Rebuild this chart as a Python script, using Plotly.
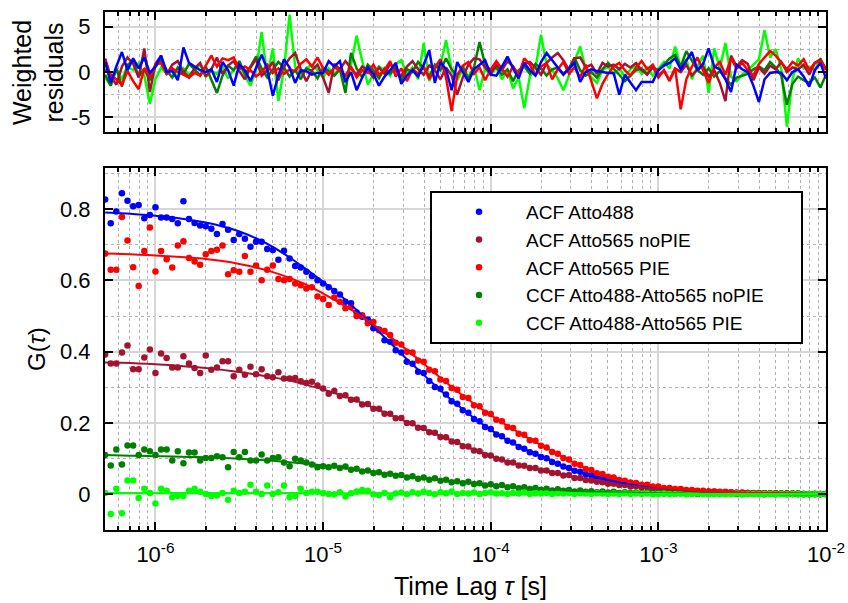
import numpy as np
import plotly.graph_objects as go

# ---------------- data ----------------
tau_us = [0.501, 0.541, 0.584, 0.631, 0.681, 0.736, 0.794, 0.858, 0.926,
          1.0, 1.08, 1.166, 1.259, 1.359, 1.468, 1.585, 1.711, 1.848, 1.995, 2.154, 2.326, 2.512, 2.712, 2.929,
          3.162, 3.415, 3.687, 3.981, 4.299, 4.642, 5.012, 5.412, 5.843, 6.31, 6.813, 7.356, 7.943, 8.577, 9.261,
          10.0, 10.8, 11.66, 12.59, 13.59, 14.68, 15.85, 17.11, 18.48, 19.95, 21.54, 23.26, 25.12, 27.12, 29.29,
          31.62, 34.15, 36.87, 39.81, 42.99, 46.42, 50.12, 54.12, 58.43, 63.1, 68.13, 73.56, 79.43, 85.77, 92.61,
          100, 108, 116.6, 125.9, 135.9, 146.8, 158.5, 171.1, 184.8, 199.5, 215.4, 232.6, 251.2, 271.2, 292.9,
          316.2, 341.5, 368.7, 398.1, 429.9, 464.2, 501.2, 541.2, 584.3, 631, 681.3, 735.6, 794.3, 857.7, 926.1,
          1000, 1080, 1166, 1259, 1359, 1468, 1585, 1711, 1848, 1995, 2154, 2326, 2512, 2712, 2929,
          3162, 3415, 3687, 3981, 4299, 4642, 5012, 5412, 5843, 6310, 6813, 7356, 7943, 8577, 9261,
          10000]

labels = ["ACF Atto488", "ACF Atto565 noPIE", "ACF Atto565 PIE",
          "CCF Atto488-Atto565 noPIE", "CCF Atto488-Atto565 PIE"]

g_acf488 = [0.827, 0.760, 0.793, 0.844, 0.823, 0.808, 0.811, 0.774, 0.783, 0.805,
            0.776, 0.776, 0.772, 0.760, 0.822, 0.772, 0.761, 0.754, 0.752, 0.745,
            0.730, 0.758, 0.742, 0.713, 0.730, 0.717, 0.694, 0.708, 0.708, 0.688,
            0.685, 0.658, 0.683, 0.661, 0.640, 0.636, 0.624, 0.612, 0.600, 0.591,
            0.581, 0.570, 0.560, 0.540, 0.536, 0.510, 0.498, 0.490, 0.466, 0.462,
            0.432, 0.428, 0.404, 0.398, 0.372, 0.366, 0.344, 0.340, 0.318, 0.301,
            0.296, 0.280, 0.261, 0.254, 0.236, 0.229, 0.211, 0.205, 0.189, 0.183,
            0.168, 0.163, 0.150, 0.145, 0.133, 0.128, 0.118, 0.114, 0.105, 0.101,
            0.091, 0.086, 0.078, 0.074, 0.066, 0.063, 0.056, 0.053, 0.047, 0.045,
            0.039, 0.038, 0.033, 0.032, 0.028, 0.027, 0.023, 0.022, 0.019, 0.018,
            0.015, 0.015, 0.012, 0.012, 0.010, 0.010, 0.009, 0.008, 0.007, 0.007,
            0.006, 0.005, 0.005, 0.004, 0.004, 0.004, 0.003, 0.003, 0.003, 0.002,
            0.002, 0.002, 0.002, 0.002, 0.001, 0.001, 0.001, 0.001, 0.001, 0.001]

g_acf565_nopie = [0.392, 0.367, 0.367, 0.398, 0.417, 0.351, 0.351, 0.384, 0.406, 0.340,
                  0.395, 0.382, 0.356, 0.356, 0.387, 0.367, 0.354, 0.340, 0.389, 0.349,
                  0.356, 0.373, 0.373, 0.331, 0.349, 0.335, 0.358, 0.337, 0.351, 0.331,
                  0.328, 0.342, 0.325, 0.325, 0.326, 0.317, 0.312, 0.316, 0.305, 0.297,
                  0.282, 0.290, 0.276, 0.278, 0.265, 0.266, 0.252, 0.253, 0.240, 0.240,
                  0.226, 0.226, 0.213, 0.214, 0.200, 0.199, 0.187, 0.186, 0.174, 0.173,
                  0.161, 0.160, 0.148, 0.147, 0.135, 0.134, 0.123, 0.121, 0.110, 0.109,
                  0.100, 0.098, 0.089, 0.089, 0.081, 0.080, 0.074, 0.074, 0.067, 0.067,
                  0.060, 0.060, 0.053, 0.054, 0.046, 0.046, 0.040, 0.039, 0.035, 0.034,
                  0.030, 0.030, 0.026, 0.026, 0.022, 0.023, 0.019, 0.020, 0.016, 0.017,
                  0.014, 0.014, 0.011, 0.012, 0.009, 0.010, 0.008, 0.008, 0.007, 0.007,
                  0.006, 0.005, 0.005, 0.004, 0.004, 0.004, 0.003, 0.003, 0.003, 0.002,
                  0.002, 0.002, 0.002, 0.001, 0.002, 0.001, 0.001, 0.001, 0.001, 0.001]

g_acf565_pie = [0.675, 0.630, 0.630, 0.778, 0.712, 0.637, 0.584, 0.682, 0.748, 0.625,
                0.682, 0.659, 0.636, 0.698, 0.710, 0.663, 0.653, 0.644, 0.673, 0.682,
                0.686, 0.698, 0.617, 0.628, 0.624, 0.668, 0.624, 0.642, 0.600, 0.630,
                0.642, 0.604, 0.600, 0.604, 0.591, 0.586, 0.577, 0.581, 0.555, 0.548,
                0.531, 0.552, 0.540, 0.522, 0.525, 0.500, 0.502, 0.480, 0.483, 0.460,
                0.458, 0.447, 0.425, 0.420, 0.400, 0.398, 0.375, 0.372, 0.349, 0.345,
                0.322, 0.318, 0.298, 0.293, 0.273, 0.270, 0.250, 0.247, 0.229, 0.225,
                0.209, 0.205, 0.189, 0.186, 0.170, 0.167, 0.152, 0.150, 0.136, 0.131,
                0.119, 0.114, 0.102, 0.098, 0.086, 0.082, 0.071, 0.068, 0.059, 0.057,
                0.049, 0.047, 0.040, 0.038, 0.033, 0.032, 0.027, 0.027, 0.022, 0.022,
                0.018, 0.018, 0.015, 0.015, 0.012, 0.012, 0.010, 0.010, 0.008, 0.008,
                0.007, 0.007, 0.006, 0.005, 0.005, 0.004, 0.004, 0.004, 0.003, 0.003,
                0.003, 0.002, 0.002, 0.002, 0.002, 0.001, 0.001, 0.001, 0.001, 0.001]

g_ccf_nopie = [0.110, 0.081, 0.126, 0.084, 0.137, 0.137, 0.110, 0.126, 0.121, 0.110,
               0.126, 0.126, 0.095, 0.121, 0.087, 0.117, 0.117, 0.095, 0.102, 0.102,
               0.107, 0.104, 0.076, 0.119, 0.104, 0.119, 0.095, 0.095, 0.112, 0.095,
               0.102, 0.104, 0.089, 0.079, 0.100, 0.095, 0.089, 0.084, 0.076, 0.079,
               0.076, 0.080, 0.074, 0.078, 0.069, 0.072, 0.064, 0.067, 0.060, 0.062,
               0.055, 0.058, 0.052, 0.054, 0.047, 0.051, 0.044, 0.047, 0.041, 0.045,
               0.038, 0.041, 0.034, 0.037, 0.031, 0.035, 0.029, 0.031, 0.025, 0.028,
               0.023, 0.026, 0.020, 0.023, 0.017, 0.020, 0.015, 0.018, 0.013, 0.016,
               0.011, 0.014, 0.010, 0.012, 0.008, 0.011, 0.007, 0.009, 0.006, 0.008,
               0.005, 0.007, 0.004, 0.006, 0.004, 0.005, 0.003, 0.005, 0.002, 0.004,
               0.002, 0.004, 0.002, 0.003, 0.001, 0.003, 0.001, 0.002, 0.001, 0.002,
               0.001, 0.002, 0.001, 0.001, 0.000, 0.001, 0.001, 0.001, 0.000, 0.001,
               0.000, 0.001, 0.000, 0.001, 0.000, 0.000, 0.000, 0.001, 0.000, 0.000]

g_ccf_pie = [0.004, -0.055, 0.016, -0.053, 0.039, 0.039, -0.010, 0.016, 0.004, -0.026,
             0.016, 0.010, -0.008, -0.005, -0.005, 0.010, 0.016, 0.007, 0.001, -0.005,
             -0.003, 0.004, -0.015, 0.010, 0.004, 0.007, 0.027, 0.007, 0.001, 0.025,
             0.001, 0.006, 0.025, -0.008, -0.005, 0.016, 0.004, 0.007, 0.007, 0.004,
             0.001, 0.000, 0.006, -0.006, 0.003, 0.008, 0.012, 0.010, 0.000, -0.002,
             0.004, -0.008, 0.002, 0.005, 0.000, 0.006, 0.002, 0.007, 0.004, 0.000,
             0.006, 0.003, 0.008, 0.001, 0.004, 0.002, 0.005, 0.001, 0.004, 0.006,
             0.002, 0.003, 0.001, 0.004, 0.002, 0.005, 0.001, 0.003, 0.002, 0.004,
             0.001, 0.003, 0.002, 0.004, 0.001, 0.003, 0.002, 0.001, 0.003, 0.002,
             0.001, 0.002, 0.001, 0.003, 0.001, 0.002, 0.001, 0.002, 0.000, 0.001,
             0.002, 0.001, 0.001, 0.002, 0.000, 0.001, 0.002, 0.001, 0.000, 0.001,
             0.001, 0.000, 0.001, 0.002, 0.000, 0.001, 0.001, 0.000, 0.001, 0.001,
             0.000, 0.001, 0.000, 0.001, 0.001, 0.000, 0.001, 0.000, 0.001, 0.000]

# fitted curves, sampled at every third lag time
fit_acf488 = [0.790, 0.788, 0.785, 0.781, 0.776, 0.770, 0.762, 0.751, 0.737, 0.718, 0.694, 0.664,
              0.631, 0.596, 0.559, 0.517, 0.471, 0.425, 0.379, 0.335, 0.292, 0.251, 0.214, 0.181,
              0.152, 0.127, 0.107, 0.085, 0.067, 0.052, 0.040, 0.031, 0.024, 0.017, 0.013, 0.010,
              0.0075, 0.0055, 0.004, 0.003, 0.0022, 0.0016, 0.0012, 0.0009]
fit_acf565_nopie = [0.370, 0.369, 0.367, 0.365, 0.362, 0.358, 0.354, 0.349, 0.343, 0.336, 0.328, 0.319,
                    0.307, 0.294, 0.279, 0.262, 0.243, 0.223, 0.203, 0.183, 0.164, 0.145, 0.125, 0.107,
                    0.091, 0.079, 0.069, 0.059, 0.048, 0.038, 0.031, 0.025, 0.020, 0.016, 0.012, 0.009,
                    0.007, 0.005, 0.004, 0.003, 0.002, 0.0015, 0.001, 0.0007]
fit_acf565_pie = [0.675, 0.674, 0.672, 0.670, 0.667, 0.664, 0.660, 0.654, 0.646, 0.636, 0.623, 0.607,
                  0.588, 0.563, 0.537, 0.508, 0.476, 0.442, 0.405, 0.366, 0.327, 0.289, 0.254, 0.222,
                  0.192, 0.164, 0.138, 0.112, 0.088, 0.066, 0.050, 0.037, 0.028, 0.021, 0.016, 0.012,
                  0.009, 0.007, 0.005, 0.004, 0.003, 0.002, 0.0015, 0.001]
fit_ccf_nopie = [0.110, 0.109, 0.108, 0.107, 0.106, 0.105, 0.104, 0.102, 0.100, 0.097, 0.094, 0.090,
                 0.086, 0.081, 0.075, 0.069, 0.062, 0.056, 0.050, 0.045, 0.040, 0.035, 0.031, 0.026,
                 0.022, 0.018, 0.015, 0.012, 0.0095, 0.0075, 0.006, 0.0048, 0.0038, 0.003, 0.0024, 0.0019,
                 0.0015, 0.0012, 0.001, 0.0008, 0.0006, 0.0005, 0.0004, 0.0003]
fit_ccf_pie = [0.004, 0.004, 0.004, 0.004, 0.004, 0.004, 0.004, 0.004, 0.004, 0.004, 0.004, 0.004,
               0.004, 0.004, 0.003, 0.003, 0.003, 0.003, 0.003, 0.003, 0.003, 0.003, 0.003, 0.003,
               0.002, 0.002, 0.002, 0.002, 0.002, 0.002, 0.002, 0.002, 0.001, 0.001, 0.001, 0.001,
               0.001, 0.001, 0.001, 0.001, 0.001, 0.001, 0.001, 0.001]

# weighted residuals
r_acf488 = [1.1, -1.2, 0.6, 2.2, 0.2, 1.5, 0.4, 1.6, -0.1, 0.6,
            1.8, 0.0, 0.1, -0.9, 2.7, 1.0, 0.6, 0.2, 0.0, 0.3,
            -1.1, 1.1, 0.2, -1.5, 0.8, 0.2, -1.0, 0.4, 1.9, 0.3,
            -2.6, -0.4, 1.4, 0.5, -1.2, 0.2, 0.1, -0.3, -0.1, -0.1,
            1.2, 0.6, 1.2, -1.1, 0.0, -2.0, -0.6, 0.5, -0.2, -1.5,
            -0.5, 0.2, 1.0, -1.3, -0.4, 0.2, -0.5, 0.8, 2.4, -1.2,
            1.1, 0.3, -2.0, 1.1, 0.0, -1.1, 0.3, 0.8, 1.3, -0.3,
            -0.4, 0.6, 1.7, 0.4, -0.7, 1.0, 0.2, -0.4, 1.1, 2.1,
            1.3, 0.5, -0.3, 0.4, 1.0, -1.1, 0.0, 0.3, 0.1, 0.0,
            -0.1, -0.1, -2.5, -0.3, -1.1, -2.0, -1.1, -1.1, -1.1, 0.2,
            0.7, 1.0, 1.5, 0.3, 1.3, 2.2, 0.2, 0.9, 2.6, 0.6,
            0.3, -0.8, -2.2, 0.8, 0.3, 0.0, -1.5, -3.3, -0.8, -0.1,
            0.0, -0.1, -0.9, 0.0, 0.3, -0.5, -1.6, 0.2, 1.0, -0.7]
r_acf565_nopie = [1.5, -0.5, -1.4, 0.6, 1.6, 0.9, -0.6, 2.6, -2.2, 0.9,
                  1.8, -0.3, 0.8, 1.2, 0.0, -0.6, 0.4, 1.0, -0.5, 0.3,
                  1.6, -0.2, 0.7, 1.2, 0.1, -0.8, 0.5, 1.4, -0.4, 0.2,
                  1.1, -0.9, 0.6, 1.5, 2.1, 0.3, -1.0, 0.2, 0.8, -0.6,
                  -2.3, 0.9, 0.3, 1.2, 0.4, -0.3, 0.6, 0.2, -0.6, 0.5,
                  -0.2, 0.9, 0.1, -0.4, 0.6, 1.2, 0.3, -0.3, 0.7, 0.2,
                  -0.8, 0.5, -0.4, -2.5, -0.6, 0.8, 1.5, 1.4, 0.5, -0.2,
                  0.8, 0.2, 1.2, 0.6, -0.4, 0.9, 1.1, 0.5, -0.3, 1.0,
                  1.6, 2.1, 1.3, 0.2, 1.5, 1.6, 0.5, 0.8, -0.2, 1.0,
                  0.6, 0.8, 0.3, 0.9, 0.5, 1.0, 0.2, -0.3, 0.6, -0.6,
                  0.2, -1.0, 0.4, 0.0, 0.8, -0.4, 0.3, 0.6, -0.5, 0.2,
                  -1.2, -3.2, 1.8, 0.6, 1.3, 0.9, -0.9, 0.5, -0.2, 0.7,
                  0.3, 1.1, 0.0, 0.5, 0.3, 0.8, -0.3, 1.0, 1.4, 0.2]
r_acf565_pie = [0.3, -0.3, -0.9, -1.4, 0.1, -1.0, -1.9, 0.4, -0.5, 0.8,
                1.0, -0.2, 0.4, 0.0, -0.3, -0.6, -0.1, -0.4, 0.7, 1.8,
                0.6, 1.5, 1.3, 1.6, 0.3, 0.6, 0.2, -0.5, 0.0, 0.8,
                -0.1, 0.4, -0.2, 0.3, 0.1, 0.9, 1.4, 0.6, 1.6, 0.4,
                -0.3, 0.5, 0.2, -0.4, 0.6, -0.6, 0.2, -0.1, 0.8, -0.3,
                0.2, 1.2, -0.5, 0.4, -1.0, 0.3, -0.2, 0.6, -0.8, 0.5,
                1.4, -0.6, -4.3, -0.4, 0.7, 1.1, -0.2, 0.5, -0.9, 0.3,
                1.2, 0.4, -0.5, 0.6, -0.3, 1.5, 0.8, -0.4, 0.6, 1.0,
                -0.8, 0.3, 1.1, -0.2, 0.5, -0.6, 0.8, -1.0, -2.9, -1.3,
                -0.2, 0.6, 1.0, 0.2, -0.4, 0.5, 1.2, 0.3, 0.8, -0.3,
                0.1, -0.9, 0.4, -4.1, -0.8, 0.6, 1.6, 0.2, -1.2, 0.5,
                1.1, -0.3, 1.5, 0.4, 1.0, 0.2, -0.4, 0.9, 1.6, 2.3,
                1.8, 1.0, 0.3, 1.1, 0.7, 1.4, 0.2, 1.0, 1.2, 0.4]
r_ccf_nopie = [-0.3, -1.5, 0.4, -1.6, 0.8, 1.2, -0.5, 0.3, -0.9, 0.6,
               1.3, 0.2, -0.6, 0.5, -0.2, 0.9, 0.3, -0.4, 0.6, -0.8,
               -2.3, -0.4, 0.7, 0.2, 1.2, -0.2, 0.6, 1.7, 0.4, -0.6,
               0.3, 1.1, 0.5, -0.5, 0.2, -0.8, 0.4, 0.1, -0.7, 0.5,
               0.1, -0.4, 0.3, -2.3, 2.1, 0.4, -0.6, 0.8, 0.2, -0.7,
               0.4, -0.2, 0.6, -0.9, 0.3, 0.0, 1.1, 0.4, -0.5, 0.8,
               0.2, 1.5, 0.3, -0.4, 0.6, -0.8, 0.5, 3.3, 0.8, 0.2,
               0.5, -0.3, 0.3, -1.0, 0.2, 0.6, -0.2, 0.9, 0.4, -0.4,
               0.3, 0.5, -0.2, 0.4, 1.6, 0.2, -0.4, 0.0, -0.6, 0.3,
               1.0, 0.4, -0.3, -1.0, -0.4, 0.2, 0.4, -0.2, 0.5, 0.2,
               0.8, 1.5, 1.9, 0.6, 2.3, 1.2, 0.2, -0.3, 0.4, -0.5,
               0.1, -0.7, -1.4, -0.6, -0.4, -0.2, 0.3, 0.6, 0.2, 1.1,
               0.5, -0.4, -3.6, -1.3, -0.5, -0.9, -1.2, -0.6, -1.7, -0.3]
r_ccf_pie = [-0.6, -1.5, 0.4, -0.8, 0.6, 0.2, 1.0, -0.4, -3.5, -0.8,
             0.5, -0.2, 0.3, -0.6, 0.4, -0.3, 0.2, 0.8, -0.5, 0.1,
             -0.2, 0.6, -0.7, 0.3, 0.9, -0.4, -1.5, 0.2, 4.4, -0.5,
             2.6, -3.2, 0.3, 6.3, 0.6, -0.3, 0.4, 0.8, 0.2, -0.6,
             0.4, -0.3, 0.5, -1.2, 0.8, 4.0, 1.2, -1.4, -0.2, 0.6,
             0.2, -0.4, 0.9, 1.3, -0.3, 0.5, -0.8, 3.2, -1.0, 0.4,
             0.8, 3.5, 0.2, -0.9, 0.3, -0.5, 0.6, -2.0, 0.4, -0.3,
             0.5, -0.8, 0.2, -1.8, -0.6, -4.0, -0.5, 0.4, 4.1, 0.8,
             0.2, -0.7, -2.0, -0.4, 1.0, 2.8, 0.3, -0.6, -1.2, 0.2,
             0.6, -0.3, 0.4, -0.5, 0.3, 0.8, -0.2, 0.5, -0.4, 0.3,
             1.1, 0.4, 2.8, 0.5, 1.4, -0.8, 0.6, 1.8, -2.3, 2.6,
             0.4, 3.2, -0.5, -1.0, -0.3, 0.2, 0.8, 1.4, 4.6, 1.6,
             2.5, 0.3, -6.0, -0.8, 1.5, 0.4, 0.6, 0.2, 1.5, 0.3]

x_tick_vals = [1e-6, 1e-5, 1e-4, 1e-3, 1e-2]
x_tick_text = ["10<sup>-6</sup>", "10<sup>-5</sup>", "10<sup>-4</sup>", "10<sup>-3</sup>", "10<sup>-2</sup>"]
g_tick_vals = [0, 0.2, 0.4, 0.6, 0.8]
g_tick_text = ["0", "0.2", "0.4", "0.6", "0.8"]
r_tick_vals = [-5, 0, 5]
r_tick_text = ["-5", "0", "5"]

# ---------------- build ----------------
tau = [t * 1e-6 for t in tau_us]
tau_fit = tau[::3]

series = [
    (labels[0], g_acf488, fit_acf488, r_acf488, "#0000ff"),
    (labels[1], g_acf565_nopie, fit_acf565_nopie, r_acf565_nopie, "#a2142f"),
    (labels[2], g_acf565_pie, fit_acf565_pie, r_acf565_pie, "#ff0000"),
    (labels[3], g_ccf_nopie, fit_ccf_nopie, r_ccf_nopie, "#008000"),
    (labels[4], g_ccf_pie, fit_ccf_pie, r_ccf_pie, "#00ff00"),
]
for name, g, f, r, c in series:
    assert len(g) == len(tau), (name, len(g))
    assert len(r) == len(tau), (name, len(r))
    assert len(f) == len(tau_fit), (name, len(f))

FONT = "Liberation Sans, Arial, Helvetica, sans-serif"
GRID_MAJOR = "#d6d6d6"
GRID_MINOR = "#b0b0b0"

fig = go.Figure()

# residual lines (top panel), blue drawn last
for idx in [4, 3, 1, 2, 0]:
    name, g, f, r, c = series[idx]
    fig.add_trace(go.Scatter(x=tau, y=r, mode="lines", line=dict(color=c, width=2.5),
                             xaxis="x2", yaxis="y2", showlegend=False, hoverinfo="skip"))

# data + fits (main panel); longest legend entry padded so the box spans like the original
for name, g, f, r, c in series:
    shown = name + "\u00a0" * 6 if name == labels[3] else name
    fig.add_trace(go.Scatter(x=tau, y=g, mode="markers", name=shown,
                             marker=dict(color=c, size=6.5), xaxis="x", yaxis="y"))
for name, g, f, r, c in series:
    fig.add_trace(go.Scatter(x=tau_fit, y=f, mode="lines", line=dict(color=c, width=2, shape="spline", smoothing=0.6),
                             xaxis="x", yaxis="y", showlegend=False, hoverinfo="skip"))

minor_x = [m * 10.0 ** e for e in range(-7, -2) for m in range(2, 10) if 5e-7 <= m * 10.0 ** e <= 1e-2]

xaxis_common = dict(
    type="log", range=[np.log10(5e-7), -2], automargin=False,
    showline=True, linecolor="black", linewidth=2, mirror="allticks",
    ticks="inside", ticklen=8, tickwidth=2, tickcolor="black",
    tickvals=x_tick_vals, ticktext=x_tick_text,
    showgrid=True, gridcolor=GRID_MAJOR, gridwidth=1.5, zeroline=False,
    minor=dict(tickvals=minor_x, ticks="inside", ticklen=4, tickwidth=1.5, tickcolor="black",
               showgrid=True, gridcolor=GRID_MINOR, griddash="dot", gridwidth=1),
    tickfont=dict(family=FONT, size=22, color="black"),
)

fig.update_layout(
    width=848, height=603,
    margin=dict(l=105, r=22, t=12, b=73, autoexpand=False),
    paper_bgcolor="white", plot_bgcolor="white",
    font=dict(family=FONT, color="black"),
    xaxis=dict(xaxis_common, anchor="y", domain=[0, 1], ticklabelstandoff=4),
    xaxis2=dict(xaxis_common, anchor="y2", domain=[0, 1], matches="x", showticklabels=False),
    yaxis=dict(domain=[0, 0.6988], range=[-0.1, 0.915], automargin=False,
               showline=True, linecolor="black", linewidth=2, mirror="allticks",
               ticks="inside", ticklen=8, tickwidth=2, tickcolor="black",
               tickvals=g_tick_vals, ticktext=g_tick_text,
               showgrid=True, gridcolor=GRID_MAJOR, gridwidth=1.5, zeroline=False,
               minor=dict(tickvals=[-0.1, 0.1, 0.3, 0.5, 0.7, 0.9], ticks="", showgrid=True,
                          gridcolor=GRID_MINOR, griddash="dot", gridwidth=1),
               tickfont=dict(family=FONT, size=22, color="black"), ticklabelstandoff=8),
    yaxis2=dict(domain=[0.7683, 1], range=[-6.6, 6.6], automargin=False,
                showline=True, linecolor="black", linewidth=2, mirror="allticks",
                ticks="inside", ticklen=8, tickwidth=2, tickcolor="black",
                tickvals=r_tick_vals, ticktext=r_tick_text,
                showgrid=True, gridcolor=GRID_MAJOR, gridwidth=1.5, zeroline=False,
                minor=dict(tickvals=[-2.5, 2.5], ticks="", showgrid=True,
                           gridcolor=GRID_MINOR, griddash="dot", gridwidth=1),
                tickfont=dict(family=FONT, size=22, color="black"), ticklabelstandoff=8),
    legend=dict(x=0.4508, y=0.6544, xanchor="left", yanchor="top",
                bgcolor="white", bordercolor="black", borderwidth=2,
                font=dict(family=FONT, size=19, color="black"), itemwidth=84),
    annotations=[
        dict(text="Weighted<br>residuals", xref="paper", yref="paper", x=-0.093, y=0.884,
             xanchor="center", yanchor="middle", textangle=-90, showarrow=False,
             font=dict(family=FONT, size=25, color="black")),
        dict(text="G(<i>τ</i>)", xref="paper", yref="paper", x=-0.096, y=0.349,
             xanchor="center", yanchor="middle", textangle=-90, showarrow=False,
             font=dict(family=FONT, size=24, color="black")),
        dict(text="Time Lag <i>τ</i> [s]", xref="paper", yref="paper", x=0.5076, y=-0.108,
             xanchor="center", yanchor="middle", showarrow=False,
             font=dict(family=FONT, size=25, color="black")),
    ],
)

fig.write_html("out.html")
